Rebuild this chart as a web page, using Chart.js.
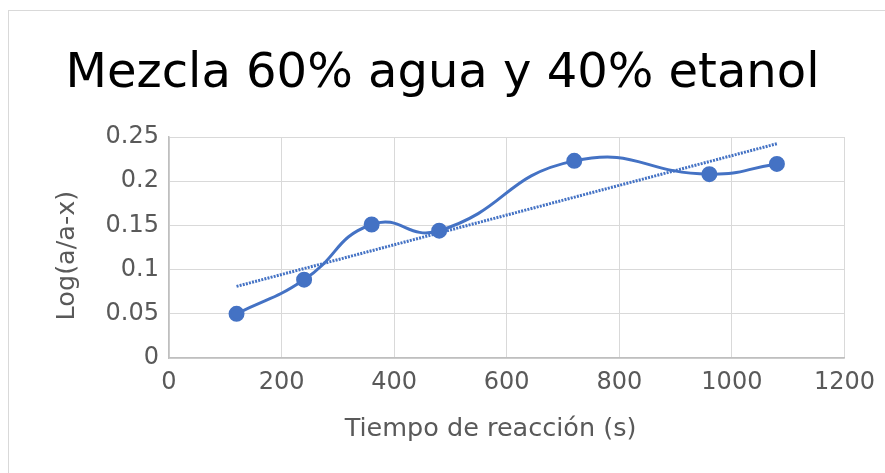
<!DOCTYPE html>
<html>
<head>
<meta charset="utf-8">
<script src="https://cdn.jsdelivr.net/npm/chart.js@4"></script>
<style>
  html, body { margin: 0; padding: 0; background: #fff; overflow: hidden; }
  #marco {
    position: absolute; left: 8px; top: 10px;
    width: 900px; height: 500px;
    border: 1px solid #d9d9d9;
  }
  #wrap { position: absolute; left: 0; top: 0; width: 885px; height: 473px; }
</style>
</head>
<body>
<div id="marco"></div>
<div id="wrap"><canvas id="grafico" width="885" height="473"></canvas></div>
<script>
// Datos
const tiempos = [120, 240, 360, 480, 720, 960, 1080];
const logValores = [0.050, 0.0886, 0.151, 0.144, 0.223, 0.208, 0.2195];

// Linea de tendencia (extremos)
const tendenciaX = [120, 1080];
const tendenciaY = [0.081, 0.2424];

const titulo = 'Mezcla 60% agua y 40% etanol';
const tituloX = 'Tiempo de reacción (s)';
const tituloY = 'Log(a/a-x)';

const azul = '#4472C4';
const gris = '#595959';
const fuente = 'DejaVu Sans';

// espacios finales para desplazar los titulos de eje como en Excel
const nb = '\u00a0';

const puntos = tiempos.map((t, i) => ({ x: t, y: logValores[i] }));
const tendencia = tendenciaX.map((t, i) => ({ x: t, y: tendenciaY[i] }));

const ctx = document.getElementById('grafico').getContext('2d');

new Chart(ctx, {
    type: 'scatter',
    data: {
        datasets: [{
            label: 'Log(a/a-x)',
            data: puntos,
            showLine: true,
            borderColor: azul,
            backgroundColor: azul,
            borderWidth: 3,
            tension: 0.5,
            pointRadius: 6.5,
            pointHoverRadius: 6.5,
            order: 2
        }, {
            label: 'Tendencia',
            data: tendencia,
            showLine: true,
            borderColor: azul,
            borderWidth: 3,
            borderDash: [2, 1.2],
            pointRadius: 0,
            tension: 0,
            order: 1
        }]
    },
    options: {
        responsive: false,
        animation: false,
        layout: {
            padding: { left: 40, right: 40, top: 0, bottom: 0 }
        },
        plugins: {
            legend: { display: false },
            tooltip: { enabled: false },
            title: {
                display: true,
                text: titulo,
                color: '#000',
                font: { family: fuente, size: 48, weight: 'normal' },
                padding: { top: 46, bottom: 33.4 }
            }
        },
        scales: {
            x: {
                type: 'linear',
                min: 0,
                max: 1200,
                ticks: {
                    stepSize: 200,
                    color: gris,
                    padding: 10,
                    maxRotation: 0,
                    font: { family: fuente, size: 24 },
                    callback: function(v) { return String(v); }
                },
                grid: { color: '#d9d9d9', lineWidth: 1, drawTicks: false },
                border: { color: '#bfbfbf', width: 1.5 },
                title: {
                    display: true,
                    text: tituloX + nb.repeat(4),
                    color: gris,
                    font: { family: fuente, size: 25.5 },
                    padding: { top: 0, bottom: 28.5 }
                },
                afterFit: function(scale) { scale.height = 115; }
            },
            y: {
                min: 0,
                max: 0.25,
                ticks: {
                    stepSize: 0.05,
                    color: gris,
                    padding: 10,
                    font: { family: fuente, size: 24 },
                    callback: function(v) { return String(Number(v.toFixed(2))); }
                },
                grid: { color: '#d9d9d9', lineWidth: 1, drawTicks: false },
                border: { color: '#bfbfbf', width: 1.5 },
                title: {
                    display: true,
                    text: tituloY + nb.repeat(2),
                    color: gris,
                    font: { family: fuente, size: 25.5 },
                    padding: { top: 11.7, bottom: 0 }
                },
                afterFit: function(scale) { scale.width = 129; }
            }
        }
    }
});
</script>
</body>
</html>
